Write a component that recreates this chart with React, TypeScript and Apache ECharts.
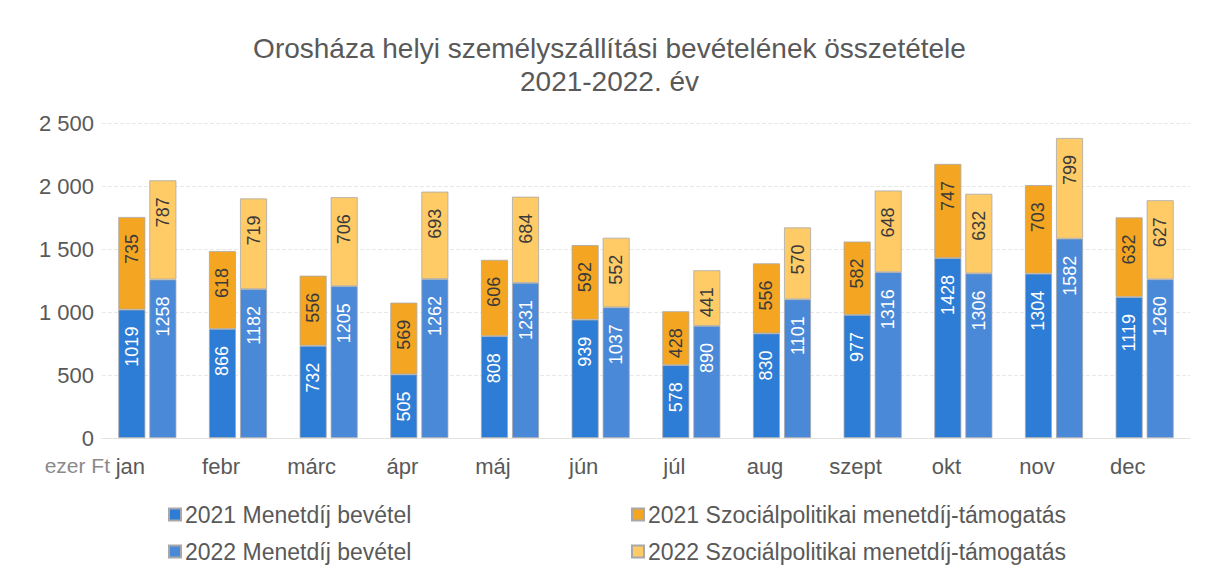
import React, { useEffect, useRef } from "react";
import * as echarts from "echarts";

const months = ["jan", "febr", "márc", "ápr", "máj", "jún", "júl", "aug", "szept", "okt", "nov", "dec"];
const fare2021 = [1019, 866, 732, 505, 808, 939, 578, 830, 977, 1428, 1304, 1119];
const social2021 = [735, 618, 556, 569, 606, 592, 428, 556, 582, 747, 703, 632];
const fare2022 = [1258, 1182, 1205, 1262, 1231, 1037, 890, 1101, 1316, 1306, 1582, 1260];
const social2022 = [787, 719, 706, 693, 684, 552, 441, 570, 648, 632, 799, 627];
const yTicks = [0, 500, 1000, 1500, 2000, 2500];
const seriesNames = [
  "2021 Menetdíj bevétel",
  "2021 Szociálpolitikai menetdíj-támogatás",
  "2022 Menetdíj bevétel",
  "2022 Szociálpolitikai menetdíj-támogatás",
];

const FONT = "Liberation Sans, Arial, sans-serif";
const GRAY = "#595959";

const fmt = (v: number) => String(v).replace(/\B(?=(\d{3})+(?!\d))/g, " ");

export default function App() {
  const ref = useRef<HTMLDivElement>(null);
  useEffect(() => {
    document.body.style.margin = "0";
    const chart = echarts.init(ref.current!, null, { renderer: "svg" });
    const label = (color: string) => ({
      show: true,
      position: "insideTop",
      rotate: 90,
      align: "right",
      verticalAlign: "middle",
      distance: 17,
      color,
      fontFamily: FONT,
      fontSize: 18,
    });
    const mk = (name: string, data: number[], stack: string, color: string, lc: string) => ({
      name,
      type: "bar",
      stack,
      data,
      barWidth: 27,
      barGap: "15%",
      itemStyle: { color, borderColor: "#a8a8a8", borderWidth: 0.8 },
      label: label(lc),
    });
    const legendText = { color: GRAY, fontSize: 23, fontFamily: FONT, padding: [0, 0, 0, -1] };
    chart.setOption({
      animation: false,
      backgroundColor: "#ffffff",
      textStyle: { fontFamily: FONT },
      title: {
        text: "Orosháza helyi személyszállítási bevételének összetétele\n2021-2022. év",
        left: "center",
        top: 27,
        textStyle: { fontFamily: FONT, fontSize: 28, fontWeight: "normal", color: GRAY, lineHeight: 33 },
      },
      grid: { left: 102, right: 29, top: 123, bottom: 140, containLabel: false },
      xAxis: {
        type: "category",
        data: months,
        axisLine: { show: true, lineStyle: { color: "#e2e2e2" } },
        axisTick: { show: false },
        axisLabel: {
          color: GRAY,
          fontSize: 22,
          fontFamily: FONT,
          margin: 17,
          padding: [0, 34, 0, 0],
        },
      },
      yAxis: {
        type: "value",
        min: yTicks[0],
        max: yTicks[yTicks.length - 1],
        interval: 500,
        axisLine: { show: false },
        axisTick: { show: false },
        splitLine: { lineStyle: { color: "#e8e8e8", type: "dashed", width: 1 } },
        axisLabel: { color: GRAY, fontSize: 22, fontFamily: FONT, margin: 8, formatter: (v: number) => fmt(v) },
      },
      legend: [
        {
          orient: "vertical",
          left: 163,
          top: 498,
          itemGap: 14,
          itemWidth: 12,
          itemHeight: 12,
          icon: "rect",
          textStyle: legendText,
          data: [seriesNames[0], seriesNames[2]],
        },
        {
          orient: "vertical",
          left: 626,
          top: 498,
          itemGap: 14,
          itemWidth: 12,
          itemHeight: 12,
          icon: "rect",
          textStyle: legendText,
          data: [seriesNames[1], seriesNames[3]],
        },
      ],
      graphic: [
        {
          type: "text",
          right: 1219 - 110,
          top: 455,
          style: { text: "ezer Ft", fill: "#8a8a8a", fontSize: 21, fontFamily: FONT },
        },
      ],
      series: [
        mk(seriesNames[0], fare2021, "a", "#2d7cd5", "#ffffff"),
        mk(seriesNames[1], social2021, "a", "#f4a623", "#3a3a3a"),
        mk(seriesNames[2], fare2022, "b", "#4a89d8", "#ffffff"),
        mk(seriesNames[3], social2022, "b", "#ffcb66", "#3a3a3a"),
      ],
    });
    return () => chart.dispose();
  }, []);
  return <div ref={ref} style={{ width: 1219, height: 578 }} />;
}
